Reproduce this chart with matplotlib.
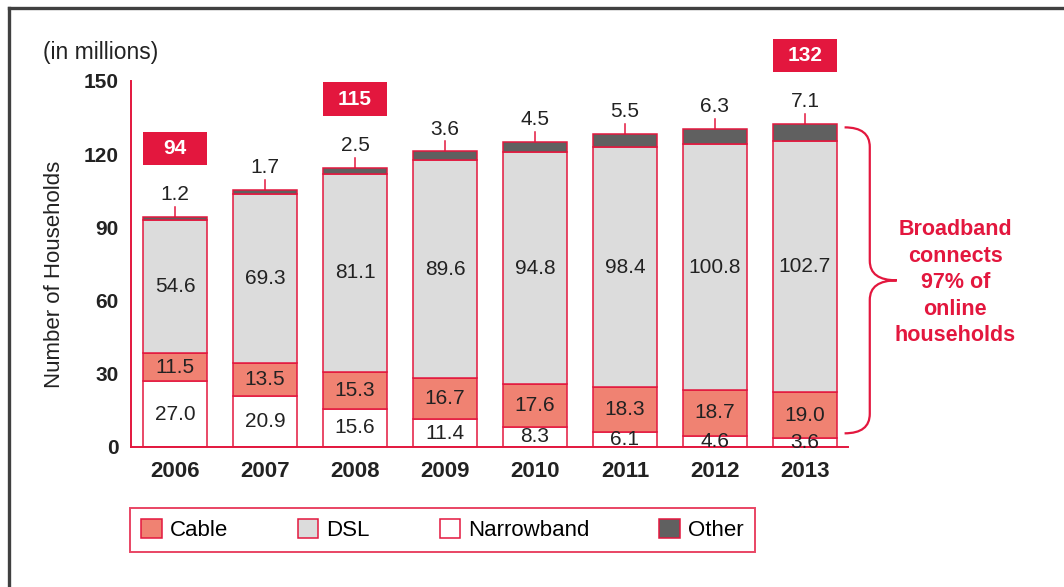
import matplotlib.pyplot as plt
from matplotlib.lines import Line2D
from matplotlib.patches import Patch, PathPatch, Rectangle
from matplotlib.path import Path

plt.rcParams["font.family"] = ["Liberation Sans", "DejaVu Sans"]

RED = "#e3173e"
CABLE_C, DSL_C, NARROW_C, OTHER_C = "#f08272", "#dcdcdc", "#ffffff", "#606060"

years = ["2006", "2007", "2008", "2009", "2010", "2011", "2012", "2013"]
narrowband = [27.0, 20.9, 15.6, 11.4, 8.3, 6.1, 4.6, 3.6]
cable = [11.5, 13.5, 15.3, 16.7, 17.6, 18.3, 18.7, 19.0]
dsl = [54.6, 69.3, 81.1, 89.6, 94.8, 98.4, 100.8, 102.7]
other = [1.2, 1.7, 2.5, 3.6, 4.5, 5.5, 6.3, 7.1]
boxed_totals = {0: "94", 2: "115", 7: "132"}

W = 0.71
fig = plt.figure(figsize=(10.64, 5.87), dpi=100)
ax = fig.add_axes([131 / 1064, 1 - 447 / 587, (848 - 131) / 1064, (447 - 81) / 587])

x = list(range(len(years)))
bot = [0.0] * len(x)
segs = [(narrowband, NARROW_C), (cable, CABLE_C), (dsl, DSL_C), (other, OTHER_C)]
for vals, col in segs:
    ax.bar(x, vals, W, bottom=bot, color=col, edgecolor=RED, linewidth=1.1, zorder=2)
    if vals is not other:
        for i, v in enumerate(vals):
            ax.text(i, bot[i] + v / 2, f"{v:.1f}", ha="center", va="center",
                    fontsize=15, color="#222", zorder=3)
    bot = [b + v for b, v in zip(bot, vals)]

# "other" values above each bar, with a little leader tick
for i, v in enumerate(other):
    top = bot[i]
    ax.plot([i, i], [top, top + 4], color=RED, lw=1.1, zorder=3, clip_on=False)
    ax.text(i, top + 9, f"{v:.1f}", ha="center", va="center", fontsize=15, color="#222")

# red total boxes
for i, lab in boxed_totals.items():
    top = bot[i]
    ax.add_patch(Rectangle((i - W / 2, top + 21.3), W, 13.6, facecolor=RED,
                           edgecolor="none", clip_on=False, zorder=3))
    ax.text(i, top + 28, lab, ha="center", va="center", fontsize=15,
            fontweight="bold", color="white", zorder=4)

ax.set_xlim(-0.489, 7.478)
ax.set_ylim(0, 150)
ax.set_yticks([0, 30, 60, 90, 120, 150])
ax.set_xticks(x, years)
ax.tick_params(axis="y", length=0, pad=9, labelsize=15)
ax.tick_params(axis="x", length=0, pad=10, labelsize=16)
for lab in ax.get_xticklabels() + ax.get_yticklabels():
    lab.set_fontweight("bold")
    lab.set_color("#222")
ax.spines[["top", "right"]].set_visible(False)
for s in ("left", "bottom"):
    ax.spines[s].set_color(RED)
    ax.spines[s].set_linewidth(1.4)

# brace around the broadband share of 2013
ylo, yhi = narrowband[-1] + 2, bot[-1] - 1.4
ym = (ylo + yhi) / 2
x0, x1, x2, r = 7.44, 7.72, 8.02, 8
verts = [(x0, yhi), (x1, yhi), (x1, yhi - r),
         (x1, ym + r), (x1, ym), (x2, ym),
         (x1, ym), (x1, ym - r),
         (x1, ylo + r), (x1, ylo), (x0, ylo)]
codes = [Path.MOVETO, Path.CURVE3, Path.CURVE3,
         Path.LINETO, Path.CURVE3, Path.CURVE3,
         Path.CURVE3, Path.CURVE3,
         Path.LINETO, Path.CURVE3, Path.CURVE3]
ax.add_patch(PathPatch(Path(verts, codes), fill=False, edgecolor=RED, lw=1.6, clip_on=False))
ax.text(8.67, ym - 1, "Broadband\nconnects\n97% of\nonline\nhouseholds", ha="center", va="center",
        fontsize=15.5, fontweight="bold", color=RED, linespacing=1.34)

fig.text(55 / 1064, 1 - 274 / 587, "Number of Households", rotation=90,
         ha="center", va="center", fontsize=16, color="#222")
fig.text(43 / 1064, 1 - 53 / 587, "(in millions)", ha="left", va="center",
         fontsize=16.5, color="#222")

handles = [Patch(facecolor=c, edgecolor=RED, lw=1.1)
           for c in (CABLE_C, DSL_C, NARROW_C, OTHER_C)]
leg = fig.legend(handles, ["Cable", "DSL", "Narrowband", "Other"], ncol=4,
                 loc="upper left", bbox_to_anchor=(130 / 1064, 1 - 508 / 587),
                 fontsize=16, frameon=True, fancybox=False, handlelength=0.93,
                 handleheight=0.93, handletextpad=0.35, columnspacing=3.15,
                 borderpad=0.5, borderaxespad=0)
leg.get_frame().set_edgecolor(RED)
leg.get_frame().set_linewidth(1.4)

# outer frame (top and left only, as in the source crop)
fig.add_artist(Line2D([9 / 1064, 1], [1 - 8 / 587, 1 - 8 / 587], color="#404040", lw=2.4))
fig.add_artist(Line2D([9 / 1064, 9 / 1064], [0, 1 - 8 / 587], color="#404040", lw=2.4))

fig.savefig("out.png", facecolor="white")
